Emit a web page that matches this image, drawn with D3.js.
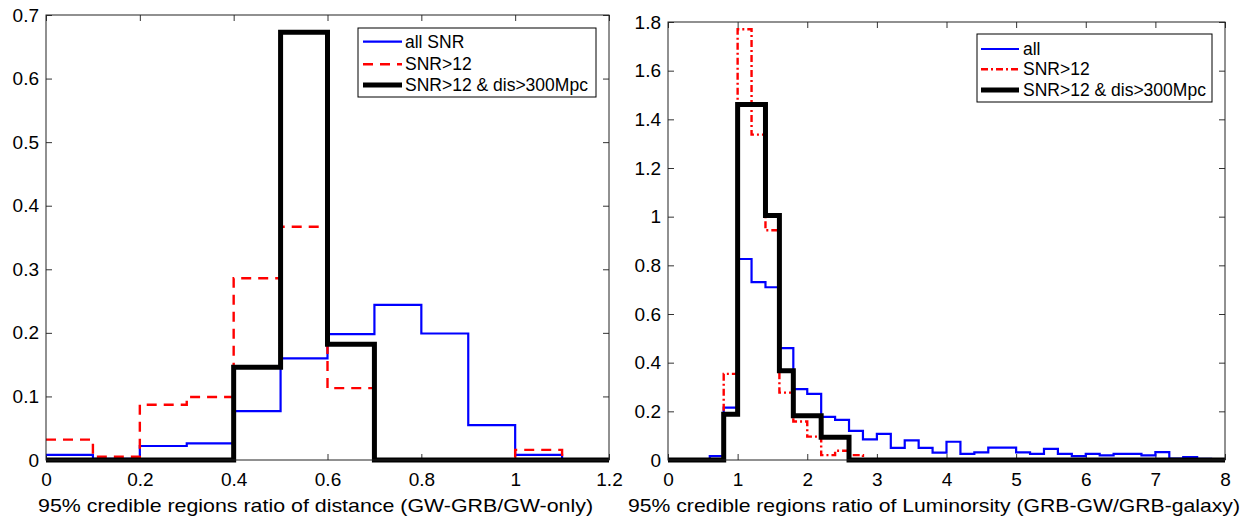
<!DOCTYPE html>
<html>
<head>
<meta charset="utf-8">
<title>95% credible regions ratio histograms</title>
<script src="https://d3js.org/d3.v7.min.js"></script>
<style>
  body { margin: 0; background: #fff; }
  svg { display: block; font-family: "Liberation Sans", Arial, Helvetica, sans-serif; }
  .tick line { stroke: #333; }
  .tick text { fill: #000; font-size: 19px; }
</style>
</head>
<body>
<svg></svg>
<script>
// ---- left panel: distance ratio, bins of 0.1 ----
const distEdges = [0, 0.1, 0.2, 0.3, 0.4, 0.5, 0.6, 0.7, 0.8, 0.9, 1.0, 1.1, 1.2]
const distAll = [0.008, 0.002, 0.022, 0.026, 0.077, 0.160, 0.198, 0.244, 0.199, 0.055, 0.008, 0]
const distSnr = [0.032, 0.005, 0.087, 0.099, 0.286, 0.367, 0.113, 0, 0, 0, 0.016, 0]
const distFar = [0, 0, 0, 0, 0.146, 0.673, 0.182, 0, 0, 0, 0, 0]
const distXTicks = [0, 0.2, 0.4, 0.6, 0.8, 1.0, 1.2]
const distYTicks = [0, 0.1, 0.2, 0.3, 0.4, 0.5, 0.6, 0.7]
const distLegend = ["all SNR", "SNR>12", "SNR>12 & dis>300Mpc"]

// ---- right panel: luminosity ratio, bins of 0.2 ----
const lumEdges = [0, 0.2, 0.4, 0.6, 0.8, 1.0, 1.2, 1.4, 1.6, 1.8, 2.0, 2.2, 2.4, 2.6, 2.8, 3.0, 3.2, 3.4, 3.6, 3.8,
  4.0, 4.2, 4.4, 4.6, 4.8, 5.0, 5.2, 5.4, 5.6, 5.8, 6.0, 6.2, 6.4, 6.6, 6.8, 7.0, 7.2, 7.4, 7.6, 7.8, 8.0]
const lumAll = [0, 0, 0, 0.016, 0.215, 0.826, 0.731, 0.71, 0.46, 0.291, 0.272, 0.177, 0.165, 0.12, 0.085,
  0.107, 0.05, 0.081, 0.05, 0.03, 0.075, 0.025, 0.031, 0.051, 0.051, 0.031, 0.025, 0.046, 0.025, 0.016,
  0.025, 0.019, 0.025, 0.025, 0.019, 0.032, 0.006, 0.012, 0.005, 0.004]
const lumSnr = [0, 0, 0, 0, 0.354, 1.77, 1.337, 0.944, 0.277, 0.158, 0.096, 0.02, 0.038, 0.02, 0,
  0, 0, 0, 0, 0, 0, 0, 0, 0, 0, 0, 0, 0, 0, 0, 0, 0, 0, 0, 0, 0, 0, 0, 0, 0]
const lumFar = [0, 0, 0, 0, 0.188, 1.461, 1.461, 1.005, 0.367, 0.182, 0.182, 0.093, 0.093, 0, 0,
  0, 0, 0, 0, 0, 0, 0, 0, 0, 0, 0, 0, 0, 0, 0, 0, 0, 0, 0, 0, 0, 0, 0, 0, 0]
const lumXTicks = [0, 1, 2, 3, 4, 5, 6, 7, 8]
const lumYTicks = [0, 0.2, 0.4, 0.6, 0.8, 1.0, 1.2, 1.4, 1.6, 1.8]
const lumLegend = ["all", "SNR>12", "SNR>12 & dis>300Mpc"]

let width = 1250, height = 518
let svg = d3.select("svg").attr("width", width).attr("height", height)

function drawPanel(p) {
  let x = d3.scaleLinear().domain(p.xDomain).range([p.left, p.right])
  let y = d3.scaleLinear().domain(p.yDomain).range([p.bottom, p.top])
  let g = svg.append("g")
  let fmt = d3.format("~g")

  // inward ticks on all four sides
  g.append("g").attr("transform", "translate(0," + p.bottom + ")")
    .call(d3.axisBottom(x).tickValues(p.xTicks).tickSize(-6).tickPadding(12.5).tickFormat(fmt))
  g.append("g").attr("transform", "translate(0," + p.top + ")")
    .call(d3.axisTop(x).tickValues(p.xTicks).tickSize(-6).tickFormat(""))
  g.append("g").attr("transform", "translate(" + p.left + ",0)")
    .call(d3.axisLeft(y).tickValues(p.yTicks).tickSize(-6).tickPadding(7).tickFormat(fmt))
  g.append("g").attr("transform", "translate(" + p.right + ",0)")
    .call(d3.axisRight(y).tickValues(p.yTicks).tickSize(-6).tickFormat(""))
  g.selectAll(".domain").remove()
  g.selectAll(".tick text").attr("font-family", null).attr("font-size", null)

  // histogram outlines
  let line = d3.line().x(d => x(d[0])).y(d => y(d[1])).curve(d3.curveStepAfter)
  p.series.forEach(s => {
    let pts = p.edges.map((e, i) => [e, s.values[Math.min(i, s.values.length - 1)]])
    g.append("path")
      .attr("d", line(pts))
      .attr("fill", "none")
      .attr("stroke", s.color)
      .attr("stroke-width", s.width)
      .attr("stroke-dasharray", s.dash)
  })

  // axes box
  g.append("rect")
    .attr("x", p.left).attr("y", p.top)
    .attr("width", p.right - p.left).attr("height", p.bottom - p.top)
    .attr("fill", "none").attr("stroke", "#222").attr("stroke-width", 1)

  // x label
  g.append("text")
    .attr("x", p.labelX).attr("y", 512)
    .attr("text-anchor", "middle")
    .attr("font-size", 19)
    .attr("textLength", p.labelLen)
    .attr("lengthAdjust", "spacingAndGlyphs")
    .text(p.xLabel)

  // legend
  let L = p.legend
  g.append("rect")
    .attr("x", L.x).attr("y", L.y).attr("width", L.w).attr("height", L.h)
    .attr("fill", "#fff").attr("stroke", "#000").attr("stroke-width", 1)
  p.series.forEach((s, i) => {
    let ry = L.rows[i]
    g.append("line")
      .attr("x1", L.x1).attr("x2", L.x2).attr("y1", ry).attr("y2", ry)
      .attr("stroke", s.color).attr("stroke-width", s.width)
      .attr("stroke-dasharray", s.dash)
    g.append("text")
      .attr("x", L.tx).attr("y", ry + 6)
      .attr("font-size", 17.5)
      .text(s.name)
  })
}

drawPanel({
  left: 46, right: 609, top: 15, bottom: 460,
  xDomain: [0, 1.2], yDomain: [0, 0.7],
  xTicks: distXTicks, yTicks: distYTicks,
  edges: distEdges,
  series: [
    { name: distLegend[0], values: distAll, color: "#0000ff", width: 2.2, dash: null },
    { name: distLegend[1], values: distSnr, color: "#ff0000", width: 2.4, dash: "10,7" },
    { name: distLegend[2], values: distFar, color: "#000", width: 5, dash: null }
  ],
  xLabel: "95% credible regions ratio of distance (GW-GRB/GW-only)",
  labelX: 315.5, labelLen: 555,
  legend: { x: 358, y: 28, w: 238, h: 69, x1: 363, x2: 402, tx: 405, rows: [41.7, 64.3, 85] }
})

drawPanel({
  left: 668, right: 1225, top: 22, bottom: 460,
  xDomain: [0, 8], yDomain: [0, 1.8],
  xTicks: lumXTicks, yTicks: lumYTicks,
  edges: lumEdges,
  series: [
    { name: lumLegend[0], values: lumAll, color: "#0000ff", width: 2.2, dash: null },
    { name: lumLegend[1], values: lumSnr, color: "#ff0000", width: 2.4, dash: "7,3,2,3" },
    { name: lumLegend[2], values: lumFar, color: "#000", width: 5, dash: null }
  ],
  xLabel: "95% credible regions ratio of Luminorsity (GRB-GW/GRB-galaxy)",
  labelX: 934, labelLen: 612,
  legend: { x: 977, y: 34, w: 235, h: 68, x1: 981, x2: 1019, tx: 1023, rows: [49, 69.3, 90] }
})
</script>
</body>
</html>
